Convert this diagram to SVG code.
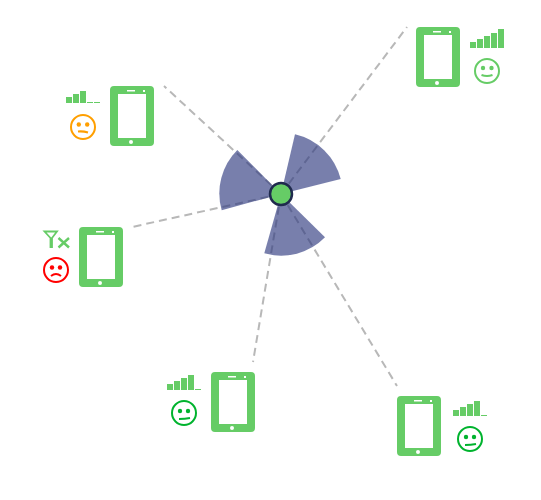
<svg xmlns="http://www.w3.org/2000/svg" xmlns:xlink="http://www.w3.org/1999/xlink" width="541" height="500" viewBox="0 0 541 500">
<style>
.link{stroke:#b8b8b8;stroke-width:2;stroke-dasharray:8 5;fill:none}
.wedge{fill:#2f3a80;fill-opacity:.65}
.bar{fill:#66cc66}
.face{fill:none;stroke-width:2}
.mouth{fill:none;stroke-width:2}
</style>
<defs>
<g id="phone">
<path fill-rule="evenodd" fill="#66cc66" d="M4 0H40a4 4 0 0 1 4 4V56a4 4 0 0 1-4 4H4a4 4 0 0 1-4-4V4a4 4 0 0 1 4-4ZM8 8V52H36V8ZM17 4V5.500H25V4ZM33 4V6H35V4Z"/>
<circle cx="21" cy="56" r="2" fill="#ffffff"/>
</g>
</defs>
<rect width="541" height="500" fill="#ffffff"/>
<g id="connectors">
<line class="link" x1="281" y1="194" x2="407" y2="27"/>
<line class="link" x1="281" y1="194" x2="164" y2="86"/>
<line class="link" x1="281" y1="194" x2="132" y2="227"/>
<line class="link" x1="281" y1="194" x2="253" y2="362"/>
<line class="link" x1="281" y1="194" x2="397" y2="386"/>
</g>
<g id="hub">
<path class="wedge" d="M281 194L295 134.300A61.500 61.500 0 0 1 340.700 179Z"/>
<path class="wedge" d="M281 194L237.300 150A61.500 61.500 0 0 0 221.700 210.300Z"/>
<path class="wedge" d="M281 194L325 237.300A61.500 61.500 0 0 1 264.300 253.300Z"/>
<circle cx="281" cy="194" r="11" fill="#66cc66" stroke="#1f2a4d" stroke-width="2.500"/>
</g>
<g id="device-1">
<use xlink:href="#phone" href="#phone" x="416" y="27"/>
<rect class="bar" x="470" y="42" width="6" height="6"/><rect class="bar" x="477" y="39" width="6" height="9"/><rect class="bar" x="484" y="36" width="6" height="12"/><rect class="bar" x="491" y="33" width="6" height="15"/><rect class="bar" x="498" y="29" width="6" height="19"/>
<circle class="face" cx="487" cy="71" r="12" stroke="#66cc66"/>
<circle cx="483" cy="68" r="2.200" fill="#66cc66"/><circle cx="491.500" cy="68" r="2.200" fill="#66cc66"/>
<path class="mouth" stroke="#66cc66" d="M481.500 75Q487 77 492.500 75"/>
</g>
<g id="device-2">
<use xlink:href="#phone" href="#phone" x="110" y="86"/>
<rect class="bar" x="66" y="97" width="6" height="6"/><rect class="bar" x="73" y="94" width="6" height="9"/><rect class="bar" x="80" y="91" width="6" height="12"/><rect class="bar" x="87" y="102" width="6" height="1"/><rect class="bar" x="94" y="102" width="6" height="1"/>
<circle class="face" cx="83" cy="127" r="12" stroke="#ff9f00"/>
<circle cx="78.800" cy="124.500" r="2.200" fill="#ff9f00"/><circle cx="87.200" cy="124.500" r="2.200" fill="#ff9f00"/>
<path class="mouth" stroke="#ff9f00" d="M78 131.500Q83 131 88 132.500"/>
</g>
<g id="device-3">
<use xlink:href="#phone" href="#phone" x="79" y="227"/>
<path d="M44.500 231.500H57L52 238V247H50.500V238Z" fill="none" stroke="#66cc66" stroke-width="1.800" stroke-linejoin="miter"/>
<path d="M58.500 238L69 247.500M69 238L58.500 247.500" fill="none" stroke="#66cc66" stroke-width="2.400"/>
<circle class="face" cx="56" cy="270" r="12" stroke="#ff0000"/>
<circle cx="52" cy="267.500" r="2.200" fill="#ff0000"/><circle cx="60" cy="267.500" r="2.200" fill="#ff0000"/>
<path class="mouth" stroke="#ff0000" d="M51 276Q56 272 61 276"/>
</g>
<g id="device-4">
<use xlink:href="#phone" href="#phone" x="211" y="372"/>
<rect class="bar" x="167" y="384" width="6" height="6"/><rect class="bar" x="174" y="381" width="6" height="9"/><rect class="bar" x="181" y="378" width="6" height="12"/><rect class="bar" x="188" y="375" width="6" height="15"/><rect class="bar" x="195" y="389" width="6" height="1"/>
<circle class="face" cx="184" cy="413" r="12" stroke="#00b32e"/>
<circle cx="180" cy="411" r="2.200" fill="#00b32e"/><circle cx="188" cy="411" r="2.200" fill="#00b32e"/>
<path class="mouth" stroke="#00b32e" d="M179 419Q185 419 190 418"/>
</g>
<g id="device-5">
<use xlink:href="#phone" href="#phone" x="397" y="396"/>
<rect class="bar" x="453" y="410" width="6" height="6"/><rect class="bar" x="460" y="407" width="6" height="9"/><rect class="bar" x="467" y="404" width="6" height="12"/><rect class="bar" x="474" y="401" width="6" height="15"/><rect class="bar" x="481" y="415" width="6" height="1"/>
<circle class="face" cx="470" cy="439" r="12" stroke="#00b32e"/>
<circle cx="466" cy="437" r="2.200" fill="#00b32e"/><circle cx="474" cy="437" r="2.200" fill="#00b32e"/>
<path class="mouth" stroke="#00b32e" d="M465 445Q471 445 476 444"/>
</g>
</svg>
